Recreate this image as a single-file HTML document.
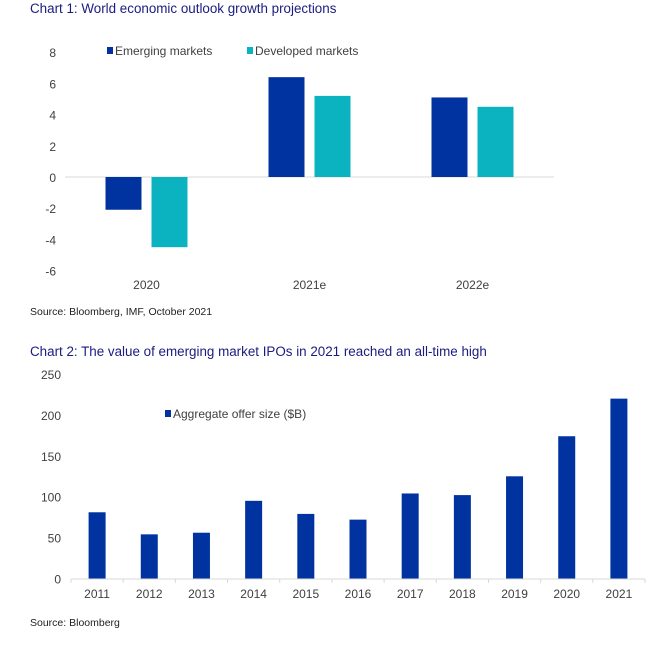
<!DOCTYPE html>
<html><head><meta charset="utf-8"><style>
body{margin:0;background:#fff;width:653px;height:642px;overflow:hidden;font-family:"Liberation Sans",Arial,sans-serif}
svg text{font-family:"Liberation Sans",Arial,sans-serif}
</style></head><body>
<svg id="s" width="653" height="642" xmlns="http://www.w3.org/2000/svg">
<text x="30" y="13" font-size="13.4" fill="#1b1b80">Chart 1: World economic outlook growth projections</text>
<text x="30" y="315" font-size="10.5" fill="#222">Source: Bloomberg, IMF, October 2021</text>
<text x="30" y="356" font-size="13.4" fill="#1b1b80">Chart 2: The value of emerging market IPOs in 2021 reached an all-time high</text>
<text x="30" y="626" font-size="10.5" fill="#222">Source: Bloomberg</text>
<g id="c1"></g>
<g id="c2"></g>
</svg>
<script>
const c1Categories = ["2020","2021e","2022e"];
const c1Emerging = [-2.1, 6.4, 5.1];
const c1Developed = [-4.5, 5.2, 4.5];
const c1Ticks = [8,6,4,2,0,-2,-4,-6];
const c2Categories = ["2011","2012","2013","2014","2015","2016","2017","2018","2019","2020","2021"];
const c2Values = [81, 54, 56, 95, 79, 72, 104, 102, 125, 174, 220];
const c2Ticks = [250,200,150,100,50,0];

const NS="http://www.w3.org/2000/svg";
function mk(p,tag,at,txt){const e=document.createElementNS(NS,tag);for(const k in at)e.setAttribute(k,at[k]);if(txt!==undefined)e.textContent=txt;p.appendChild(e);return e;}

// Chart 1
const g1=document.getElementById('c1');
const y1=v=>177-v*15.6;
const x1L=65,x1R=554,cw1=(x1R-x1L)/c1Categories.length;
c1Ticks.forEach(t=>{
  const e=mk(g1,'text',{x:56,y:y1(t)+5,'font-size':12,fill:'#404040','text-anchor':'end'},String(t));
  
  
});
const z=mk(g1,'line',{x1:x1L,x2:x1R,y1:y1(0),y2:y1(0),stroke:'#d9d9d9','stroke-width':1});


c1Categories.forEach((c,i)=>{
  const cx=x1L+cw1*(i+0.5);
  [[c1Emerging[i],'#0033a0',cx-41],[c1Developed[i],'#0bb3c0',cx+5]].forEach(([v,col,x],j)=>{
    const top=Math.min(y1(0),y1(v)),h=Math.abs(y1(v)-y1(0));
    const r=mk(g1,'rect',{x:x,y:top,width:36,height:h,fill:col});
    
    
  });
  const l=mk(g1,'text',{x:cx,y:289,'font-size':12,fill:'#404040','text-anchor':'middle'},c);
  
  
});
[['#0033a0',107,'Emerging markets'],['#0bb3c0',247,'Developed markets']].forEach(([col,x,t])=>{
  const s=mk(g1,'rect',{x:x,y:47,width:6,height:7,fill:col});
  
  
  const e=mk(g1,'text',{x:x+8,y:55,'font-size':12,fill:'#404040'},t);
  
  
});

// Chart 2
const g2=document.getElementById('c2');
const y2=v=>578.5-v*0.8176;
const x2L=71,x2R=645,cw2=(x2R-x2L)/c2Categories.length;
c2Ticks.forEach(t=>{
  const e=mk(g2,'text',{x:61,y:y2(t)+5,'font-size':12,fill:'#404040','text-anchor':'end'},String(t));
  
  
});
const ax=mk(g2,'line',{x1:x2L,x2:x2R,y1:579,y2:579,stroke:'#d9d9d9','stroke-width':1});


for(let i=0;i<=c2Categories.length;i++){
  const tk=mk(g2,'line',{x1:x2L+cw2*i,x2:x2L+cw2*i,y1:579,y2:583,stroke:'#d9d9d9'});
  
  
}
c2Categories.forEach((c,i)=>{
  const cx=x2L+cw2*(i+0.5);
  const r=mk(g2,'rect',{x:cx-8.5,y:y2(c2Values[i]),width:17,height:y2(0)-y2(c2Values[i]),fill:'#0033a0'});
  
  
  const l=mk(g2,'text',{x:cx,y:598,'font-size':12,fill:'#404040','text-anchor':'middle'},c);
  
  
});
const s2=mk(g2,'rect',{x:165,y:410,width:6,height:7,fill:'#0033a0'});


const t2=mk(g2,'text',{x:173,y:418,'font-size':12,fill:'#404040'},'Aggregate offer size ($B)');


</script>
</body></html>
